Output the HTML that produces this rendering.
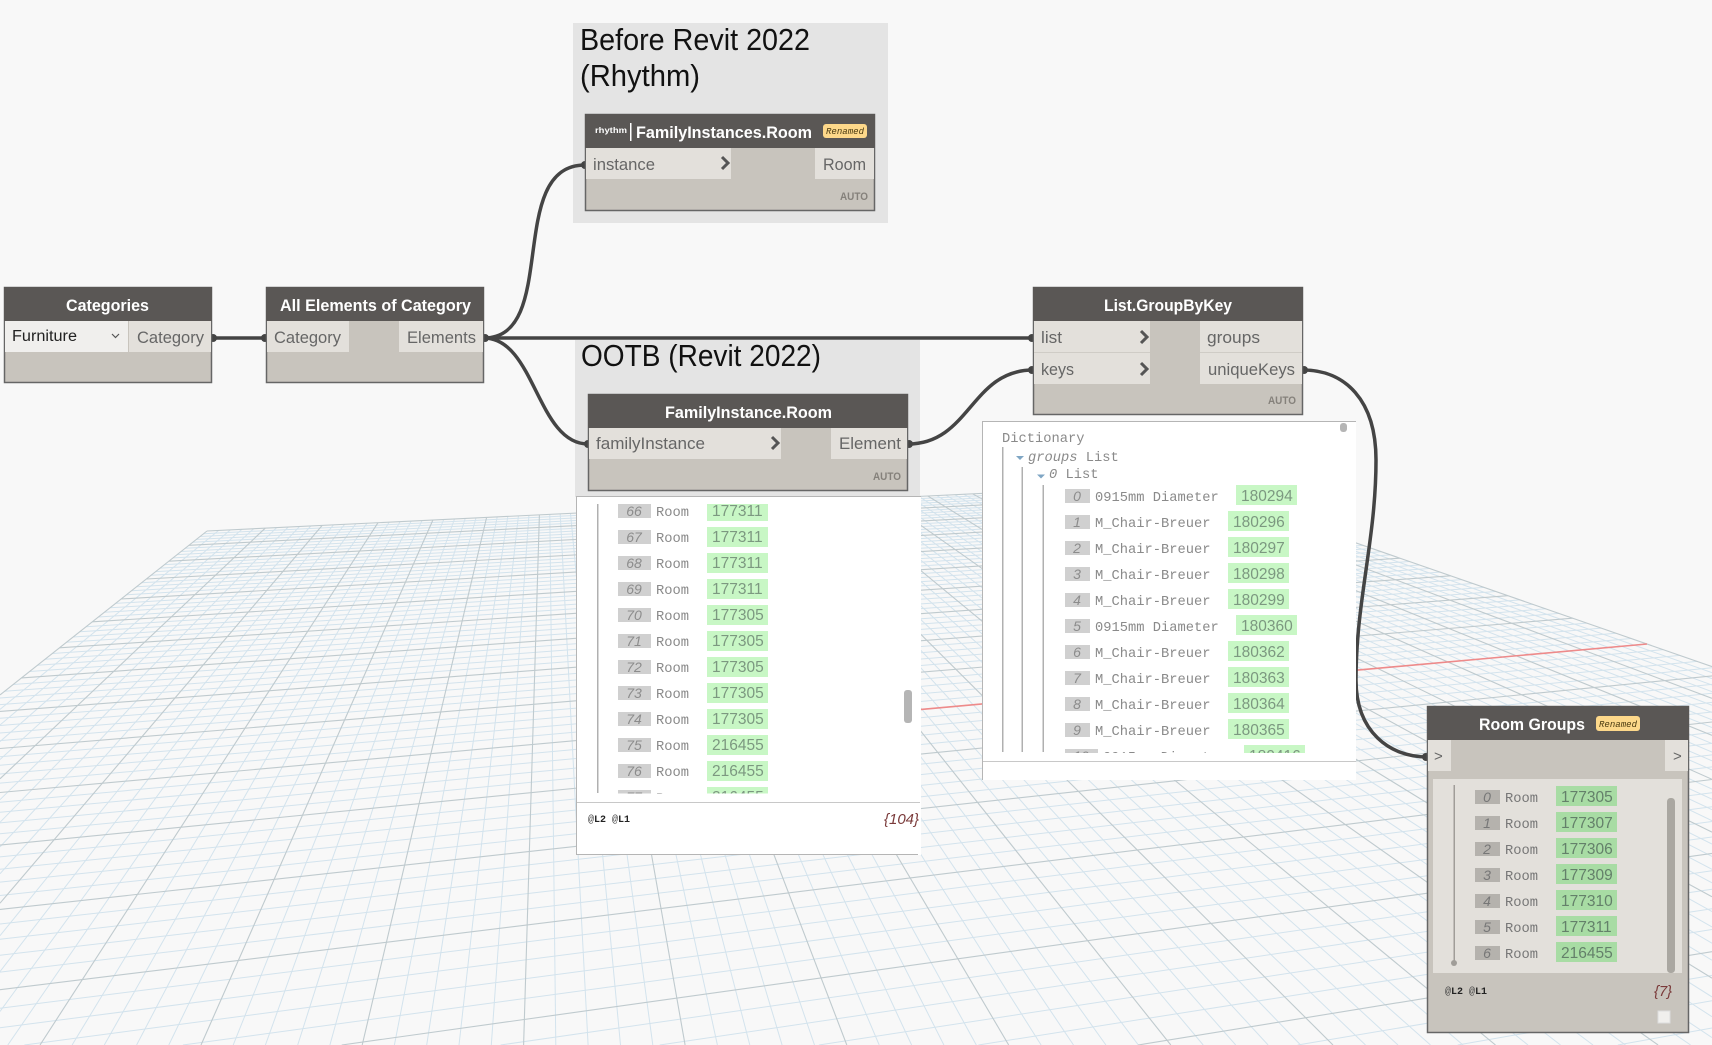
<!DOCTYPE html>
<html><head><meta charset="utf-8"><style>
html,body{margin:0;padding:0;width:1712px;height:1045px;background:#f8f8f8;overflow:hidden;position:relative}
svg{display:block;position:absolute;left:0;top:0}
text{font-family:"Liberation Sans",sans-serif}
.h{font-weight:bold;font-size:17px;fill:#fff}
.p{font-size:17px;fill:#666}
.t{font-size:31px;fill:#111}
.a{font-weight:bold;font-size:11px;fill:#85817b}
.m{font-family:"Liberation Mono",monospace;font-size:13.750px;fill:#8a8a8a}
.i{font-style:italic;font-size:14px;fill:#8c8c8c;text-anchor:middle}
.n{font-size:15.500px;fill:#7c9880}
.r{font-family:"Liberation Mono",monospace;font-style:italic;font-size:9px;fill:#4a3a10}
.s{font-family:"Liberation Mono",monospace;font-size:10px;fill:#444}
</style></head><body>
<svg id="grid" width="1712" height="1045" viewBox="0 0 1712 1045" xmlns="http://www.w3.org/2000/svg"></svg>
<svg width="1712" height="1045" viewBox="0 0 1712 1045" xmlns="http://www.w3.org/2000/svg">
<defs>
<clipPath id="c1"><rect x="577" y="504" width="343" height="289.500"/></clipPath>
<clipPath id="c2"><rect x="983" y="440" width="373" height="313"/></clipPath>
</defs>

<!-- groups -->
<rect x="573" y="23" width="315" height="200" fill="#e4e4e4"/>
<rect x="575" y="340" width="345" height="157" fill="#e4e4e4"/>
<text class="t" x="580" y="50" textLength="230" lengthAdjust="spacingAndGlyphs">Before Revit 2022</text>
<text class="t" x="580" y="86" textLength="120" lengthAdjust="spacingAndGlyphs">(Rhythm)</text>
<text class="t" x="581" y="366" textLength="240" lengthAdjust="spacingAndGlyphs">OOTB (Revit 2022)</text>

<!-- wires -->
<g fill="none" stroke="#444" stroke-width="3.500">
<path d="M212 338H266"/>
<path d="M484 338H1033"/>
<path d="M484 338C560 338 505 165 585 165"/>
<path d="M484 338C535 338 537 444 588 444"/>
<path d="M908 444C970 444 971 370 1033 370"/>
<path d="M1303 370C1345 370 1376 400 1376 460C1376 540 1356 600 1356 680C1356 732 1390 757 1427 757"/>
</g>
<g fill="#444">
<circle cx="213" cy="338" r="4"/><circle cx="265" cy="338" r="4"/><circle cx="485" cy="338" r="4"/>
<circle cx="585" cy="165" r="4"/><circle cx="588" cy="444" r="4"/><circle cx="909" cy="444" r="4"/>
<circle cx="1032" cy="338" r="4"/><circle cx="1032" cy="370" r="4"/><circle cx="1304" cy="370" r="4"/>
<circle cx="1426" cy="757" r="4"/>
</g>

<!-- Categories -->
<rect x="4.500" y="287.500" width="207" height="95" fill="#c8c4bd" stroke="#666" stroke-width="1.500"/>
<rect x="4" y="287" width="208" height="34" fill="#5a5755"/>
<rect x="5" y="321" width="123" height="31" fill="#f0efed"/>
<rect x="129" y="321" width="82" height="31" fill="#e3e0db"/>
<text class="h" x="66" y="311" textLength="83" lengthAdjust="spacingAndGlyphs">Categories</text>
<text x="12" y="341" font-size="15.500" fill="#222" textLength="65" lengthAdjust="spacingAndGlyphs">Furniture</text>
<path d="M112 334l3.500 3.500 3.500-3.500" fill="none" stroke="#555" stroke-width="1.200"/>
<text class="p" x="137" y="343" textLength="67" lengthAdjust="spacingAndGlyphs">Category</text>

<!-- All Elements -->
<rect x="266.500" y="287.500" width="217" height="95" fill="#c8c4bd" stroke="#666" stroke-width="1.500"/>
<rect x="266" y="287" width="218" height="34" fill="#5a5755"/>
<rect x="267" y="321" width="82" height="31" fill="#e3e0db"/>
<rect x="399" y="321" width="84" height="31" fill="#e3e0db"/>
<text class="h" x="280" y="311" textLength="191" lengthAdjust="spacingAndGlyphs">All Elements of Category</text>
<text class="p" x="274" y="343" textLength="67" lengthAdjust="spacingAndGlyphs">Category</text>
<text class="p" x="407" y="343" textLength="69" lengthAdjust="spacingAndGlyphs">Elements</text>

<!-- FamilyInstances.Room (Rhythm) -->
<rect x="585.500" y="114.500" width="289" height="96" fill="#c8c4bd" stroke="#666" stroke-width="1.500"/>
<rect x="585" y="114" width="290" height="34" fill="#5a5755"/>
<rect x="586" y="148" width="145" height="31" fill="#e3e0db"/>
<rect x="815" y="148" width="59" height="31" fill="#e3e0db"/>
<text x="595" y="133" font-size="8" font-weight="bold" fill="#fff" textLength="32" lengthAdjust="spacingAndGlyphs">rhythm</text>
<rect x="630" y="123" width="1.500" height="18" fill="#fff"/>
<text class="h" x="636" y="138" textLength="176" lengthAdjust="spacingAndGlyphs">FamilyInstances.Room</text>
<rect x="823" y="124" width="44" height="14" rx="3" fill="#fdd88a"/>
<text class="r" x="826" y="134" textLength="38" lengthAdjust="spacingAndGlyphs">Renamed</text>
<text class="p" x="593" y="170" textLength="62" lengthAdjust="spacingAndGlyphs">instance</text>
<text class="p" x="823" y="170" textLength="43" lengthAdjust="spacingAndGlyphs">Room</text>
<path d="M722 157l6 6-6 6" fill="none" stroke="#555" stroke-width="3"/>
<text class="a" x="840" y="200" textLength="28" lengthAdjust="spacingAndGlyphs">AUTO</text>

<!-- FamilyInstance.Room -->
<rect x="588.500" y="394.500" width="319" height="96" fill="#c8c4bd" stroke="#666" stroke-width="1.500"/>
<rect x="588" y="394" width="320" height="34" fill="#5a5755"/>
<rect x="589" y="428" width="192" height="31" fill="#e3e0db"/>
<rect x="831" y="428" width="76" height="31" fill="#e3e0db"/>
<text class="h" x="665" y="418" textLength="167" lengthAdjust="spacingAndGlyphs">FamilyInstance.Room</text>
<text class="p" x="596" y="449" textLength="109" lengthAdjust="spacingAndGlyphs">familyInstance</text>
<text class="p" x="839" y="449" textLength="62" lengthAdjust="spacingAndGlyphs">Element</text>
<path d="M772 437l6 6-6 6" fill="none" stroke="#555" stroke-width="3"/>
<text class="a" x="873" y="480" textLength="28" lengthAdjust="spacingAndGlyphs">AUTO</text>

<!-- List panel -->
<rect x="576.500" y="496.500" width="344" height="358" fill="#fff" stroke="#b5b5b5"/>
<rect x="918" y="497" width="3" height="358" fill="#fff"/>
<rect x="597" y="504" width="1.500" height="289" fill="#b0b0b0"/>
<g clip-path="url(#c1)">
<g fill="#d0d0d0">
<rect x="618" y="504" width="33" height="14"/><rect x="618" y="530" width="33" height="14"/><rect x="618" y="556" width="33" height="14"/><rect x="618" y="582" width="33" height="14"/><rect x="618" y="608" width="33" height="14"/><rect x="618" y="634" width="33" height="14"/><rect x="618" y="660" width="33" height="14"/><rect x="618" y="686" width="33" height="14"/><rect x="618" y="712" width="33" height="14"/><rect x="618" y="738" width="33" height="14"/><rect x="618" y="764" width="33" height="14"/><rect x="618" y="790" width="33" height="14"/>
</g>
<g fill="#c8f7c5">
<rect x="707" y="501" width="61" height="20"/><rect x="707" y="527" width="61" height="20"/><rect x="707" y="553" width="61" height="20"/><rect x="707" y="579" width="61" height="20"/><rect x="707" y="605" width="61" height="20"/><rect x="707" y="631" width="61" height="20"/><rect x="707" y="657" width="61" height="20"/><rect x="707" y="683" width="61" height="20"/><rect x="707" y="709" width="61" height="20"/><rect x="707" y="735" width="61" height="20"/><rect x="707" y="761" width="61" height="20"/><rect x="707" y="787" width="61" height="20"/>
</g>
<text class="i" x="634" y="516">66</text><text class="i" x="634" y="542">67</text><text class="i" x="634" y="568">68</text><text class="i" x="634" y="594">69</text><text class="i" x="634" y="620">70</text><text class="i" x="634" y="646">71</text><text class="i" x="634" y="672">72</text><text class="i" x="634" y="698">73</text><text class="i" x="634" y="724">74</text><text class="i" x="634" y="750">75</text><text class="i" x="634" y="776">76</text><text class="i" x="634" y="802">77</text>
<text class="m" x="656" y="516">Room</text><text class="m" x="656" y="542">Room</text><text class="m" x="656" y="568">Room</text><text class="m" x="656" y="594">Room</text><text class="m" x="656" y="620">Room</text><text class="m" x="656" y="646">Room</text><text class="m" x="656" y="672">Room</text><text class="m" x="656" y="698">Room</text><text class="m" x="656" y="724">Room</text><text class="m" x="656" y="750">Room</text><text class="m" x="656" y="776">Room</text><text class="m" x="656" y="802">Room</text>
<text class="n" x="712" y="516">177311</text><text class="n" x="712" y="542">177311</text><text class="n" x="712" y="568">177311</text><text class="n" x="712" y="594">177311</text><text class="n" x="712" y="620">177305</text><text class="n" x="712" y="646">177305</text><text class="n" x="712" y="672">177305</text><text class="n" x="712" y="698">177305</text><text class="n" x="712" y="724">177305</text><text class="n" x="712" y="750">216455</text><text class="n" x="712" y="776">216455</text><text class="n" x="712" y="802">216455</text>
</g>
<rect x="904" y="690" width="8" height="33" rx="3" fill="#b5b5b5"/>
<rect x="577" y="802" width="343" height="1" fill="#c8c8c8"/>
<text class="s" x="588" y="822">@<tspan font-weight="bold" fill="#222">L2</tspan> @<tspan font-weight="bold" fill="#222">L1</tspan></text>
<text x="884" y="824" font-size="15" font-style="italic" fill="#7a3a3a" textLength="35">{104}</text>

<!-- List.GroupByKey -->
<rect x="1033.500" y="287.500" width="269" height="127" fill="#c8c4bd" stroke="#666" stroke-width="1.500"/>
<rect x="1033" y="287" width="270" height="34" fill="#5a5755"/>
<rect x="1034" y="321" width="116" height="63" fill="#e3e0db"/>
<rect x="1200" y="321" width="102" height="63" fill="#e3e0db"/>
<rect x="1034" y="352" width="116" height="1" fill="#cfccc6"/>
<rect x="1200" y="352" width="102" height="1" fill="#cfccc6"/>
<text class="h" x="1104" y="311" textLength="128" lengthAdjust="spacingAndGlyphs">List.GroupByKey</text>
<text class="p" x="1041" y="343" textLength="21" lengthAdjust="spacingAndGlyphs">list</text>
<text class="p" x="1041" y="375" textLength="33" lengthAdjust="spacingAndGlyphs">keys</text>
<text class="p" x="1207" y="343" textLength="53" lengthAdjust="spacingAndGlyphs">groups</text>
<text class="p" x="1208" y="375" textLength="87" lengthAdjust="spacingAndGlyphs">uniqueKeys</text>
<path d="M1141 331l6 6-6 6M1141 363l6 6-6 6" fill="none" stroke="#555" stroke-width="3"/>
<text class="a" x="1268" y="404" textLength="28" lengthAdjust="spacingAndGlyphs">AUTO</text>

<!-- Dictionary panel -->
<rect x="982" y="421" width="374" height="359" fill="#fff"/>
<path d="M1356 421.500H982.500V780" fill="none" stroke="#b5b5b5"/>
<rect x="983" y="761" width="373" height="1" fill="#c8c8c8"/>
<rect x="1340" y="423" width="7" height="9" rx="3" fill="#b5b5b5"/>
<rect x="1002" y="447" width="1.500" height="305" fill="#b0b0b0"/>
<rect x="1021.500" y="467" width="1.500" height="285" fill="#b0b0b0"/>
<rect x="1042.500" y="485" width="1.500" height="267" fill="#b0b0b0"/>
<text class="m" x="1002" y="442">Dictionary</text>
<path d="M1016 456h8l-4 4zM1037 474.500h8l-4 4z" fill="#7fa6c4"/>
<text class="m" x="1028" y="461"><tspan font-style="italic">groups</tspan> List</text>
<text class="m" x="1049" y="478"><tspan font-style="italic">0</tspan> List</text>
<g clip-path="url(#c2)">
<g fill="#d0d0d0">
<rect x="1065" y="489" width="25" height="14"/><rect x="1065" y="515" width="25" height="14"/><rect x="1065" y="541" width="25" height="14"/><rect x="1065" y="567" width="25" height="14"/><rect x="1065" y="593" width="25" height="14"/><rect x="1065" y="619" width="25" height="14"/><rect x="1065" y="645" width="25" height="14"/><rect x="1065" y="671" width="25" height="14"/><rect x="1065" y="697" width="25" height="14"/><rect x="1065" y="723" width="25" height="14"/><rect x="1065" y="749" width="33" height="14"/>
</g>
<g fill="#c8f7c5">
<rect x="1236" y="485" width="61" height="20"/><rect x="1228" y="511" width="61" height="20"/><rect x="1228" y="537" width="61" height="20"/><rect x="1228" y="563" width="61" height="20"/><rect x="1228" y="589" width="61" height="20"/><rect x="1236" y="615" width="61" height="20"/><rect x="1228" y="641" width="61" height="20"/><rect x="1228" y="667" width="61" height="20"/><rect x="1228" y="693" width="61" height="20"/><rect x="1228" y="719" width="61" height="20"/><rect x="1244" y="745" width="61" height="20"/>
</g>
<text class="i" x="1077" y="501">0</text><text class="i" x="1077" y="527">1</text><text class="i" x="1077" y="553">2</text><text class="i" x="1077" y="579">3</text><text class="i" x="1077" y="605">4</text><text class="i" x="1077" y="631">5</text><text class="i" x="1077" y="657">6</text><text class="i" x="1077" y="683">7</text><text class="i" x="1077" y="709">8</text><text class="i" x="1077" y="735">9</text><text class="i" x="1081" y="761">10</text>
<text class="m" x="1095" y="501">0915mm Diameter</text>
<text class="m" x="1095" y="527">M_Chair-Breuer</text>
<text class="m" x="1095" y="553">M_Chair-Breuer</text>
<text class="m" x="1095" y="579">M_Chair-Breuer</text>
<text class="m" x="1095" y="605">M_Chair-Breuer</text>
<text class="m" x="1095" y="631">0915mm Diameter</text>
<text class="m" x="1095" y="657">M_Chair-Breuer</text>
<text class="m" x="1095" y="683">M_Chair-Breuer</text>
<text class="m" x="1095" y="709">M_Chair-Breuer</text>
<text class="m" x="1095" y="735">M_Chair-Breuer</text>
<text class="m" x="1103" y="761">0915mm Diameter</text>
<text class="n" x="1241" y="501">180294</text><text class="n" x="1233" y="527">180296</text><text class="n" x="1233" y="553">180297</text><text class="n" x="1233" y="579">180298</text><text class="n" x="1233" y="605">180299</text><text class="n" x="1241" y="631">180360</text><text class="n" x="1233" y="657">180362</text><text class="n" x="1233" y="683">180363</text><text class="n" x="1233" y="709">180364</text><text class="n" x="1233" y="735">180365</text><text class="n" x="1249" y="761">180416</text>
</g>

<!-- Room Groups -->
<rect x="1427.500" y="706.500" width="261" height="326" fill="#c8c4bd" stroke="#666" stroke-width="1.500"/>
<rect x="1427" y="706" width="262" height="34" fill="#5a5755"/>
<rect x="1428" y="740" width="23" height="31" fill="#e3e0db"/>
<rect x="1665" y="740" width="23" height="31" fill="#e3e0db"/>
<text class="h" x="1479" y="730" textLength="106" lengthAdjust="spacingAndGlyphs">Room Groups</text>
<rect x="1596" y="716" width="44" height="15" rx="3" fill="#fdd88a"/>
<text class="r" x="1599" y="727" textLength="38" lengthAdjust="spacingAndGlyphs">Renamed</text>
<text x="1434" y="761" font-size="15" fill="#666">&gt;</text>
<text x="1673" y="761" font-size="15" fill="#666">&gt;</text>
<rect x="1433" y="779" width="249" height="194" fill="#e3e0db"/>
<rect x="1453.500" y="785" width="1.500" height="178" fill="#a09d98"/>
<circle cx="1454" cy="963" r="3" fill="#a09d98"/>
<g fill="#b5b2ad">
<rect x="1475" y="790" width="25" height="14"/><rect x="1475" y="816" width="25" height="14"/><rect x="1475" y="842" width="25" height="14"/><rect x="1475" y="868" width="25" height="14"/><rect x="1475" y="894" width="25" height="14"/><rect x="1475" y="920" width="25" height="14"/><rect x="1475" y="946" width="25" height="14"/>
</g>
<g fill="#a8dca4">
<rect x="1556" y="786" width="61" height="20"/><rect x="1556" y="812" width="61" height="20"/><rect x="1556" y="838" width="61" height="20"/><rect x="1556" y="864" width="61" height="20"/><rect x="1556" y="890" width="61" height="20"/><rect x="1556" y="916" width="61" height="20"/><rect x="1556" y="942" width="61" height="20"/>
</g>
<text class="i" x="1487" y="802" style="fill:#777">0</text><text class="i" x="1487" y="828" style="fill:#777">1</text><text class="i" x="1487" y="854" style="fill:#777">2</text><text class="i" x="1487" y="880" style="fill:#777">3</text><text class="i" x="1487" y="906" style="fill:#777">4</text><text class="i" x="1487" y="932" style="fill:#777">5</text><text class="i" x="1487" y="958" style="fill:#777">6</text>
<text class="m" x="1505" y="802" style="fill:#777">Room</text><text class="m" x="1505" y="828" style="fill:#777">Room</text><text class="m" x="1505" y="854" style="fill:#777">Room</text><text class="m" x="1505" y="880" style="fill:#777">Room</text><text class="m" x="1505" y="906" style="fill:#777">Room</text><text class="m" x="1505" y="932" style="fill:#777">Room</text><text class="m" x="1505" y="958" style="fill:#777">Room</text>
<text class="n" x="1561" y="802" style="fill:#64806a">177305</text><text class="n" x="1561" y="828" style="fill:#64806a">177307</text><text class="n" x="1561" y="854" style="fill:#64806a">177306</text><text class="n" x="1561" y="880" style="fill:#64806a">177309</text><text class="n" x="1561" y="906" style="fill:#64806a">177310</text><text class="n" x="1561" y="932" style="fill:#64806a">177311</text><text class="n" x="1561" y="958" style="fill:#64806a">216455</text>
<rect x="1667" y="798" width="8" height="175" rx="3.500" fill="#aaa7a1"/>
<text class="s" x="1445" y="994">@<tspan font-weight="bold" fill="#222">L2</tspan> @<tspan font-weight="bold" fill="#222">L1</tspan></text>
<text x="1654" y="996" font-size="15" font-style="italic" fill="#7a3a3a" textLength="18">{7}</text>
<rect x="1658" y="1011" width="12" height="12" fill="#f0efed" stroke="#ddd"/>
</svg>
<script>
(function(){
var A=[207,531],B=[1185,483.5],C=[1647,644],L=[-139,805];
var dx1=B[0]-C[0],dx2=L[0]-C[0],sx=A[0]-B[0]+C[0]-L[0];
var dy1=B[1]-C[1],dy2=L[1]-C[1],sy=A[1]-B[1]+C[1]-L[1];
var den=dx1*dy2-dx2*dy1;
var g=(sx*dy2-dx2*sy)/den,h=(dx1*sy-sx*dy1)/den;
var a=B[0]-A[0]+g*B[0],b=L[0]-A[0]+h*L[0],c=A[0];
var d=B[1]-A[1]+g*B[1],e=L[1]-A[1]+h*L[1],f=A[1];
function P(u,v){var w=g*u+h*v+1;return [(a*u+b*v+c)/w,(d*u+e*v+f)/w];}
function clipV(u){var w=g*u+1;var vm=2;if(h<0){vm=Math.min(2,(0.06-w)/h);}return vm;}
function ln(p,q,col,sw){
 var x0=p[0],y0=p[1],dx=q[0]-x0,dy=q[1]-y0,t0=0,t1=1;
 var ps=[-dx,dx,-dy,dy],qs=[x0,1712-x0,y0,1045-y0];
 for(var k=0;k<4;k++){
  if(ps[k]==0){if(qs[k]<0)return '';continue;}
  var r=qs[k]/ps[k];
  if(ps[k]<0){if(r>t0)t0=r;}else{if(r<t1)t1=r;}
 }
 if(t0>=t1)return '';
 return '<line x1="'+(x0+t0*dx).toFixed(1)+'" y1="'+(y0+t0*dy).toFixed(1)+'" x2="'+(x0+t1*dx).toFixed(1)+'" y2="'+(y0+t1*dy).toFixed(1)+'" stroke="'+col+'" stroke-width="'+sw+'"/>';
}
var s='',maj='',i;
var MI='#d3e3ed',MA='#bfcace';
for(i=0;i<=100;i++){
 var u=i/100,v=i/50,isM=i%5==0;
 var vm=clipV(u);
 var l1=ln(P(u,0),P(u,vm),isM?MA:MI,isM?1.1:1);
 if(isM){maj+=l1}else{s+=l1}
 var wv=h*v+1;
 if(wv<0.06||wv+g<0.06){continue;}
 var l2=ln(P(0,v),P(1,v),isM?MA:MI,isM?1.1:1);
 if(isM){maj+=l2}else{s+=l2}
}
s+=maj;
s+=ln(P(.5,1),P(1,1),'#ee8a8a',1.6);
document.getElementById('grid').innerHTML=s;
})();
</script>
</body></html>
